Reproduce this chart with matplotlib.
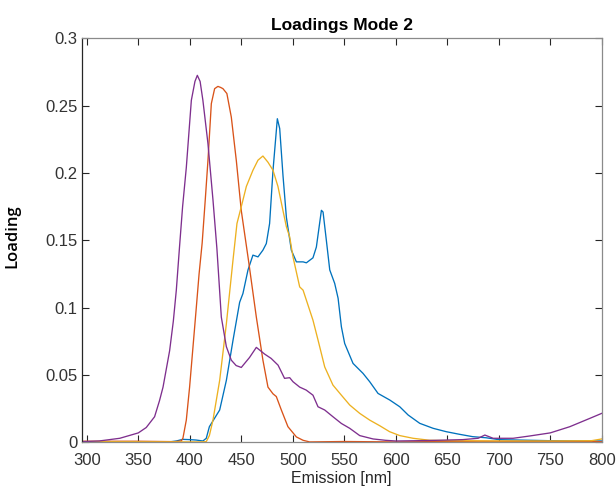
import numpy as np
import matplotlib
matplotlib.use("Agg")
import matplotlib.pyplot as plt
from matplotlib.ticker import MultipleLocator, FormatStrFormatter

# data (emission wavelength in nm, loading)
nm_c1 = [295, 380, 387, 393, 400, 406, 412.7, 416, 419, 424, 429, 435.5, 442, 448.4, 451.6,
         456.5, 461.3, 466.2, 471, 474.3, 477.5, 480.8, 485, 487.3, 490.5, 493.8, 498.6,
         503.5, 510, 513.2, 519.6, 522.9, 527.8, 529.4, 532.6, 535.9, 540.7, 544, 547.2,
         550.4, 558.5, 568.2, 574.7, 582.8, 594.2, 603.9, 612, 623.3, 636.3, 649, 661.6,
         674.7, 687.6, 700, 750, 800]
load_c1 = [0.0003, 0.0003, 0.001, 0.0022, 0.002, 0.0017, 0.001, 0.003, 0.0116, 0.0178, 0.024,
           0.046, 0.076, 0.104, 0.1105, 0.128, 0.139, 0.1377, 0.1427, 0.1476, 0.1625, 0.202,
           0.2403, 0.233, 0.198, 0.167, 0.1427, 0.134, 0.134, 0.1333, 0.137, 0.145, 0.1723,
           0.171, 0.15, 0.128, 0.118, 0.107, 0.0858, 0.0734, 0.0586, 0.0512, 0.045, 0.0363,
           0.0314, 0.0264, 0.0203, 0.0141, 0.0104, 0.0079, 0.006, 0.0042, 0.0034, 0.002,
           0.0012, 0.001]

nm_c2 = [295, 350, 385, 391.7, 393.3, 396.6, 399.8, 403, 406.3, 409, 412, 415, 417.6, 420.9,
         424.1, 427.3, 430, 432.2, 436, 440.3, 445.2, 450, 457, 464.6, 471, 475.9, 480.8,
         484, 488.9, 495.3, 503.5, 510, 516.4, 550, 600, 680, 800]
load_c2 = [0.0008, 0.0008, 0.0005, 0.001, 0.003, 0.0165, 0.041, 0.07, 0.1, 0.125, 0.148,
           0.18, 0.209, 0.2515, 0.2626, 0.2643, 0.2635, 0.2626, 0.259, 0.2415, 0.209, 0.172,
           0.135, 0.093, 0.061, 0.041, 0.036, 0.034, 0.024, 0.0116, 0.004, 0.0015, 0.0003,
           0.0006, 0.0003, 0.0008, 0.0005]

nm_c3 = [295, 410, 416, 419, 422.5, 429, 435.5, 441.9, 445.8, 450, 454.9, 461.3, 466.2, 471,
         475.9, 480.8, 485.6, 490.5, 493.8, 497, 500.2, 506.7, 510, 519.6, 524.5, 531, 539,
         547.2, 555.3, 565, 574.7, 584.5, 594, 603.9, 616.8, 633, 660, 700, 750, 790, 800]
load_c3 = [0.0005, 0.0003, 0.0005, 0.005, 0.0165, 0.046, 0.088, 0.135, 0.1625, 0.175, 0.19,
           0.202, 0.2095, 0.2126, 0.208, 0.202, 0.19, 0.172, 0.16, 0.1525, 0.1377, 0.1154,
           0.113, 0.0907, 0.076, 0.056, 0.0425, 0.035, 0.0277, 0.0215, 0.0165, 0.0123, 0.0079,
           0.005, 0.003, 0.0015, 0.0012, 0.001, 0.001, 0.0012, 0.0025]

nm_c4 = [295, 312, 332, 350, 357.7, 365.8, 370.6, 374, 380.4, 384, 386.9, 390, 393, 396.6,
         401.5, 405, 407.3, 410, 412.7, 417.6, 422.5, 426.3, 428.5, 430.6, 435.5, 440.3, 445,
         450, 458, 464.6, 472.7, 479, 485.7, 492, 497, 500.2, 506.7, 513, 519.6, 524.5, 531,
         539, 547.2, 555.3, 565, 578, 590, 600, 620, 640, 665, 680, 686.5, 694.6, 714, 730,
         750, 769, 788.5, 800]
load_c4 = [0.0005, 0.001, 0.003, 0.007, 0.011, 0.019, 0.031, 0.041, 0.068, 0.09, 0.113,
           0.145, 0.175, 0.204, 0.254, 0.268, 0.2725, 0.268, 0.254, 0.222, 0.18, 0.144, 0.118,
           0.093, 0.071, 0.061, 0.057, 0.0556, 0.063, 0.0705, 0.0655, 0.0623, 0.0573, 0.0475,
           0.048, 0.045, 0.041, 0.0388, 0.035, 0.0264, 0.024, 0.019, 0.014, 0.0104, 0.005,
           0.0025, 0.0015, 0.001, 0.0012, 0.0015, 0.002, 0.003, 0.0054, 0.003, 0.003, 0.0047,
           0.007, 0.0116, 0.0178, 0.0215]

series = [(nm_c1, load_c1), (nm_c2, load_c2), (nm_c3, load_c3), (nm_c4, load_c4)]
colours = ["#0072BD", "#D95319", "#EDB120", "#7E2F8E"]

# MATLAB-ish styling
plt.rc("font", family=["Liberation Sans", "DejaVu Sans"], size=12)
plt.rc("xtick", direction="in", top=True, bottom=True, color="#262626", labelsize=12)
plt.rc("ytick", direction="in", right=True, left=True, color="#262626", labelsize=12)

fig = plt.figure(figsize=(6.16, 4.90), dpi=100)
ax = fig.add_axes([0.1326, 0.0973, 0.8442, 0.8245])

for (x, y), c in zip(series, colours):
    ax.plot(x, y, color=c, lw=0.95)

ax.set_xlim(295, 800)
ax.set_ylim(0, 0.3)
ax.xaxis.set_major_locator(MultipleLocator(50))
ax.yaxis.set_major_locator(MultipleLocator(0.05))
ax.yaxis.set_major_formatter(FormatStrFormatter("%g"))
ax.tick_params(axis="x", pad=8, length=5, width=0.8, labelcolor="#333333")
ax.tick_params(axis="y", pad=3, length=5, width=0.8, labelcolor="#333333")

ax.spines["left"].set_color("#262626")
for side in ["top", "right", "bottom"]:
    ax.spines[side].set_color("#8a8a8a")
for s in ax.spines.values():
    s.set_linewidth(0.9)

ax.set_title("Loadings Mode 2", fontsize=12.5, fontweight="bold", pad=6)
ax.set_xlabel("Emission [nm]", fontsize=11.5, color="#262626", labelpad=2)
ax.set_ylabel("Loading", fontsize=12, family="Open Sans", fontweight="semibold")
ax.yaxis.set_label_coords(-0.1187, 0.51)

fig.savefig("out.png", dpi=100)
